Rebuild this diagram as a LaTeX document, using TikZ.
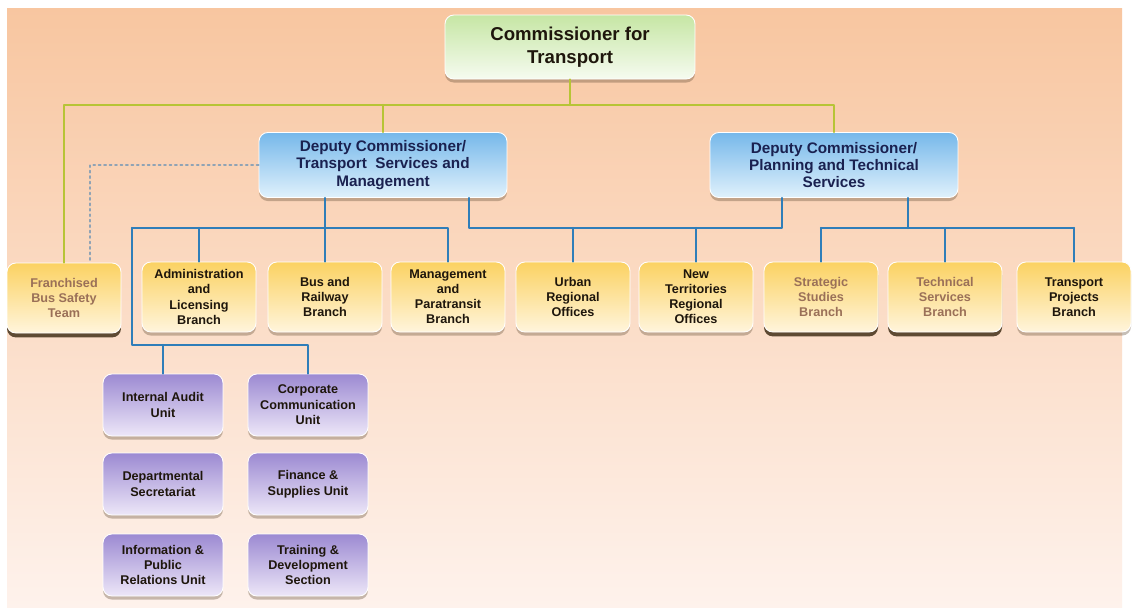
\documentclass[tikz,border=0pt]{standalone}
\usepackage{fontspec}
\setmainfont{Liberation Sans}
\usetikzlibrary{shadows}

\definecolor{peachTop}{HTML}{F8C6A0}
\definecolor{peachBot}{HTML}{FEF2EC}
\definecolor{greenTop}{HTML}{C6E6A4}
\definecolor{greenBot}{HTML}{F6FBF0}
\definecolor{blueTop}{HTML}{76B8EA}
\definecolor{blueBot}{HTML}{E0F1FC}
\definecolor{yellowTop}{HTML}{FBD262}
\definecolor{yellowBot}{HTML}{FFF5DC}
\definecolor{purpleTop}{HTML}{9C8AD2}
\definecolor{purpleBot}{HTML}{EDE7F8}
\definecolor{lineGreen}{HTML}{B7C436}
\definecolor{lineBlue}{HTML}{2F7EB9}
\definecolor{dotGray}{HTML}{8FA3B5}
\definecolor{txtDark}{HTML}{1E160C}
\definecolor{txtNavy}{HTML}{1A2150}
\definecolor{fadedTxt}{HTML}{9A7058}
\definecolor{shadowBrown}{HTML}{5E4A33}

\begin{document}
\begin{tikzpicture}[
  x=0.02cm, y=-0.02cm,
  line cap=round,
  line join=round,
  greenline/.style={draw=lineGreen, line width=1.2pt},
  blueline/.style={draw=lineBlue, line width=1.2pt},
  dotline/.style={draw=dotGray, line width=1.1pt, dotted},
  softshadow/.style={drop shadow={shadow xshift=0pt, shadow yshift=-2pt, opacity=0.35, fill=shadowBrown}},
  hardshadow/.style={drop shadow={shadow xshift=0pt, shadow yshift=-2.5pt, opacity=1, fill=shadowBrown}},
  box/.style={rounded corners=5pt, align=center, inner sep=2pt, draw=white, line width=0.5pt},
  topbox/.style={box, softshadow, top color=greenTop, bottom color=greenBot,
    minimum width=5cm, minimum height=1.28cm, text=txtDark,
    font=\fontsize{10.6}{13}\selectfont\bfseries},
  dcbox/.style={box, softshadow, top color=blueTop, bottom color=blueBot,
    minimum width=4.96cm, minimum height=1.3cm, text=txtNavy,
    font=\fontsize{8.7}{9.8}\selectfont\bfseries},
  branch/.style={box, softshadow, top color=yellowTop, bottom color=yellowBot,
    minimum width=2.28cm, minimum height=1.4cm, text=txtDark,
    font=\fontsize{7.2}{8.6}\selectfont\bfseries},
  fadedbranch/.style={box, hardshadow, top color=yellowTop, bottom color=yellowBot,
    minimum width=2.28cm, minimum height=1.4cm, text=fadedTxt,
    font=\fontsize{7.2}{8.6}\selectfont\bfseries},
  unit/.style={box, softshadow, top color=purpleTop, bottom color=purpleBot,
    minimum width=2.4cm, minimum height=1.24cm, text=txtDark,
    font=\fontsize{7.2}{8.8}\selectfont\bfseries}
]

\useasboundingbox (0,0) rectangle (1132,613);
\fill [white] (0,0) rectangle (1132,613);
\shade [top color=peachTop, bottom color=peachBot] (7,8) rectangle (1122,607);

% top and deputies
\node [topbox] (comm) at (570,47) {Commissioner for\\Transport};
\node [dcbox] (dcts) at (383,165) {Deputy Commissioner/\\Transport\ \ Services and\\Management};
\node [dcbox] (dcpt) at (834,165) {Deputy Commissioner/\\Planning and Technical\\Services};

% branches
\node [fadedbranch] (fbst) at (64,298) {Franchised\\Bus Safety\\Team};
\foreach \nm/\cx/\txt in {alb/199/{Administration\\and\\Licensing\\Branch},
                         brb/325/{Bus and\\Railway\\Branch},
                         mpb/448/{Management\\and\\Paratransit\\Branch},
                         uro/573/{Urban\\Regional\\Offices},
                         ntro/696/{New\\Territories\\Regional\\Offices},
                         tpb/1074/{Transport\\Projects\\Branch}}
  \node [branch] (\nm) at (\cx,297) {\txt};
\node [fadedbranch] (ssb) at (821,297) {Strategic\\Studies\\Branch};
\node [fadedbranch] (tsb) at (945,297) {Technical\\Services\\Branch};

% units
\foreach \nm/\cx/\cy/\txt in {iau/163/405/{Internal Audit\\Unit},
                             ccu/308/405/{Corporate\\Communication\\Unit},
                             dsec/163/484/{Departmental\\Secretariat},
                             fsu/308/484/{Finance \&\\Supplies Unit},
                             ipr/163/565/{Information \&\\Public\\Relations Unit},
                             tds/308/565/{Training \&\\Development\\Section}}
  \node [unit] (\nm) at (\cx,\cy) {\txt};

% green links
\coordinate (gbus) at (0,105);
\draw [greenline] (comm.south) -- (comm.south |- gbus);
\draw [greenline] (fbst.north) |- (gbus -| dcpt) -- (dcpt.north);
\draw [greenline] (gbus -| dcts) -- (dcts.north);

% dotted link
\coordinate (fdot) at (90,262);
\draw [dotline] (dcts.west) -| (fdot);

% blue links
\coordinate (busA) at (132,228);
\coordinate (busB) at (132,345);
\coordinate (busC) at (469,228);
\coordinate (busD) at (782,228);
\coordinate (busE) at (908,228);

\draw [blueline] (dcts.south -| brb) -- (brb.north);
\draw [blueline] (busA) -- (busA -| mpb) -- (mpb.north);
\draw [blueline] (busA -| alb) -- (alb.north);
\draw [blueline] (busA) -- (busB) -| (ccu.north);
\draw [blueline] (busB -| iau) -- (iau.north);

\draw [blueline] (dcts.south -| busC) -- (busC) -- (busD) -- (dcpt.south -| busD);
\foreach \nm in {uro,ntro}
  \draw [blueline] (busC -| \nm) -- (\nm.north);

\draw [blueline] (dcpt.south -| busE) -- (busE);
\draw [blueline] (busE -| ssb) -- (busE -| tpb);
\foreach \nm in {ssb,tsb,tpb}
  \draw [blueline] (busE -| \nm) -- (\nm.north);

\end{tikzpicture}
\end{document}
